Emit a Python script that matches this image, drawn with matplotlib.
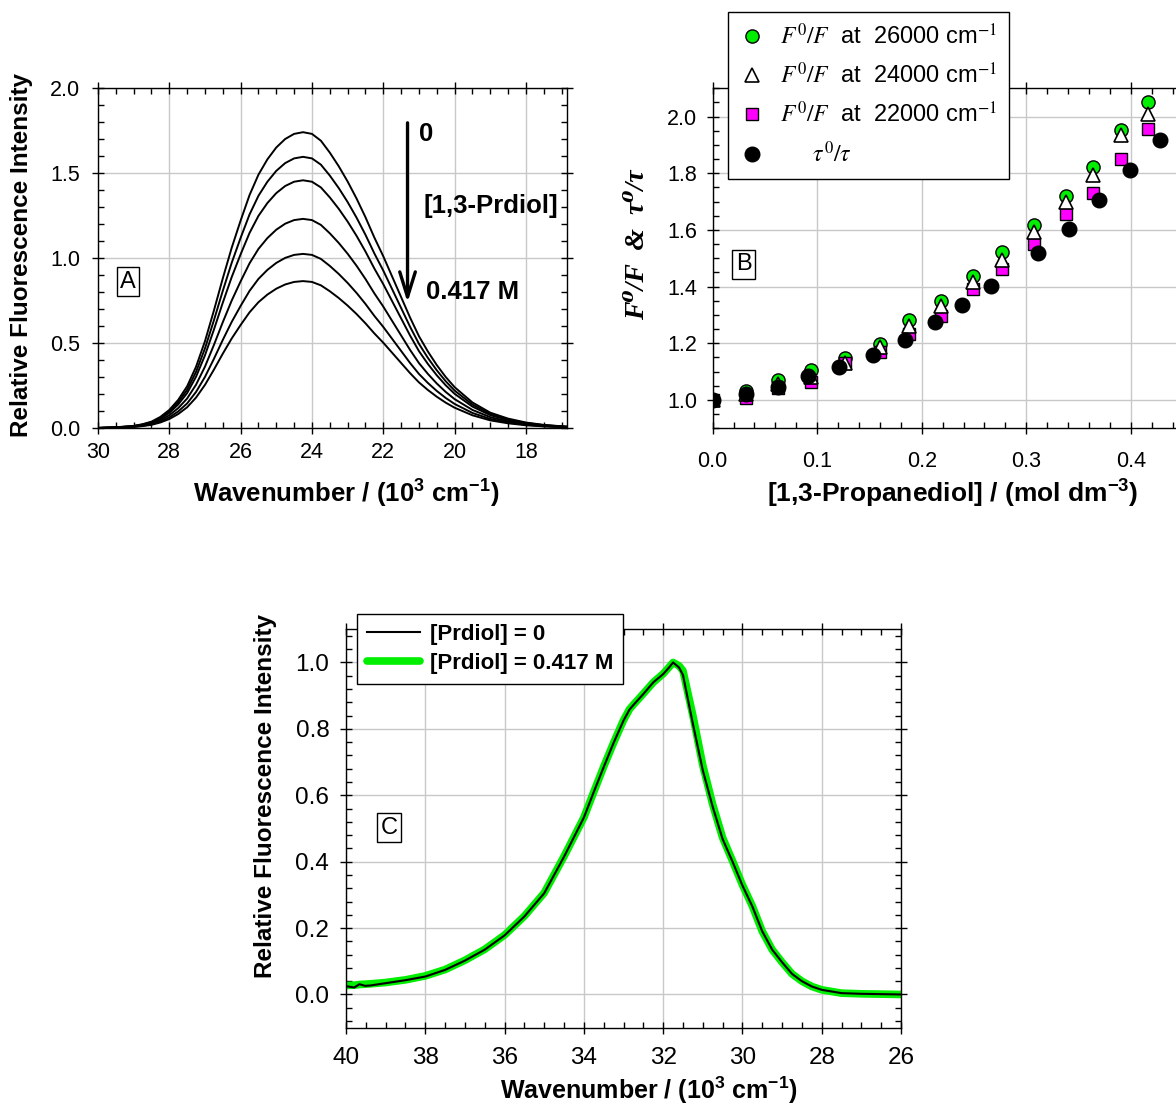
import matplotlib.pyplot as plt
from matplotlib.ticker import MultipleLocator
from matplotlib.lines import Line2D
from matplotlib.font_manager import FontProperties

plt.rcParams['font.family'] = ['Liberation Sans', 'DejaVu Sans']
plt.rcParams['mathtext.fontset'] = 'custom'
plt.rcParams['mathtext.rm'] = 'Liberation Sans:bold'
plt.rcParams['mathtext.it'] = 'Liberation Sans:italic:bold'
plt.rcParams['mathtext.bf'] = 'Liberation Sans:bold'

# ---- A: emission spectra with increasing [1,3-Prdiol]
wn_a = [30.0, 29.5, 29.0, 28.75, 28.5, 28.25, 28.0, 27.75, 27.5, 27.25, 27.0,
        26.75, 26.5, 26.25, 26.0, 25.75, 25.5, 25.25, 25.0, 24.75, 24.5, 24.25,
        24.0, 23.75, 23.5, 23.25, 23.0, 22.75, 22.5, 22.25, 22.0, 21.75, 21.5,
        21.25, 21.0, 20.75, 20.5, 20.25, 20.0, 19.5, 19.0, 18.5, 18.0, 17.5,
        17.0, 16.85]
spec_a0 = [0.000, 0.004, 0.012, 0.022, 0.037, 0.065, 0.106, 0.165, 0.245, 0.36,
           0.51, 0.69, 0.88, 1.06, 1.22, 1.37, 1.49, 1.58, 1.65, 1.70, 1.73,
           1.74, 1.73, 1.69, 1.62, 1.54, 1.45, 1.35, 1.24, 1.12, 1.01, 0.89,
           0.77, 0.65, 0.54, 0.45, 0.37, 0.30, 0.24, 0.15, 0.09, 0.055, 0.032,
           0.018, 0.010, 0.008]
peaks_a = [1.74, 1.595, 1.457, 1.23, 1.024, 0.864]

# ---- B: F0/F and tau0/tau against [1,3-propanediol]
conc_f = [0.0, 0.0319, 0.0628, 0.094, 0.1266, 0.160, 0.188, 0.218, 0.249,
          0.277, 0.3075, 0.3378, 0.3636, 0.391, 0.4169]
f0f_26000 = [1.0, 1.030, 1.071, 1.104, 1.149, 1.198, 1.281, 1.349, 1.439,
             1.522, 1.619, 1.719, 1.823, 1.953, 2.050]
f0f_24000 = [1.0, 1.020, 1.057, 1.080, 1.130, 1.186, 1.260, 1.330, 1.416,
             1.493, 1.593, 1.700, 1.794, 1.935, 2.008]
f0f_22000 = [1.0, 1.007, 1.042, 1.065, 1.130, 1.168, 1.233, 1.297, 1.393,
             1.462, 1.550, 1.656, 1.731, 1.850, 1.956]
conc_tau = [0.0, 0.0319, 0.0628, 0.0915, 0.1212, 0.1531, 0.1837, 0.213,
            0.2389, 0.266, 0.3116, 0.341, 0.3694, 0.3993, 0.428]
tau0tau = [1.0, 1.021, 1.047, 1.084, 1.118, 1.160, 1.212, 1.276, 1.334,
           1.404, 1.519, 1.603, 1.705, 1.811, 1.918]

# ---- C: normalised excitation spectra
wn_c = [40.0, 39.79, 39.66, 39.52, 39.39, 39.0, 38.5, 38.0, 37.5, 37.0, 36.5,
        36.0, 35.5, 35.0, 34.5, 34.0, 33.75, 33.5, 33.25, 33.0, 32.85, 32.75,
        32.5, 32.25, 32.0, 31.85, 31.75, 31.6, 31.5, 31.25, 31.0, 30.75, 30.5,
        30.25, 30.0, 29.75, 29.5, 29.25, 29.0, 28.75, 28.5, 28.25, 28.0, 27.5,
        27.0, 26.5, 26.0]
exc_0 = [0.025, 0.021, 0.031, 0.026, 0.027, 0.034, 0.043, 0.054, 0.074, 0.102,
         0.135, 0.178, 0.235, 0.305, 0.415, 0.533, 0.61, 0.685, 0.758, 0.825,
         0.858, 0.872, 0.905, 0.94, 0.965, 0.985, 1.0, 0.985, 0.962, 0.815,
         0.675, 0.565, 0.468, 0.40, 0.328, 0.265, 0.19, 0.135, 0.097, 0.062,
         0.04, 0.024, 0.014, 0.004, 0.002, 0.001, 0.0]
exc_417 = [0.027, 0.028, 0.030, 0.031, 0.032, 0.036, 0.044, 0.056, 0.075, 0.103,
           0.136, 0.179, 0.236, 0.306, 0.416, 0.533, 0.61, 0.686, 0.758, 0.826,
           0.859, 0.873, 0.906, 0.94, 0.966, 0.986, 1.0, 0.99, 0.975, 0.84,
           0.69, 0.572, 0.472, 0.402, 0.33, 0.266, 0.19, 0.135, 0.097, 0.062,
           0.04, 0.024, 0.014, 0.004, 0.002, 0.001, 0.0]

GREEN = '#00ee00'
GRID = '#c8c8c8'


def style_axes(ax, xmaj, xmin, ymaj, ymin, xpad, ypad, size):
    ax.xaxis.set_major_locator(MultipleLocator(xmaj))
    ax.xaxis.set_minor_locator(MultipleLocator(xmin))
    ax.yaxis.set_major_locator(MultipleLocator(ymaj))
    ax.yaxis.set_minor_locator(MultipleLocator(ymin))
    ax.tick_params(which='major', direction='inout', length=8, width=1,
                   top=True, right=True, labelsize=size)
    ax.tick_params(which='minor', direction='in', length=4, width=1,
                   top=True, right=True)
    ax.tick_params(axis='x', which='major', pad=xpad)
    ax.tick_params(axis='y', which='major', pad=ypad)
    ax.grid(True, which='major', color=GRID, lw=1)
    ax.set_axisbelow(True)
    for s in ax.spines.values():
        s.set_linewidth(1)


def label_box(ax, x, y, s):
    ax.text(x, y, s, fontsize=17, ha='center', va='center',
            bbox=dict(boxstyle='square,pad=0.15', fc='white', ec='black', lw=1))


fig = plt.figure(figsize=(11.76, 11.11), dpi=100)

# ---------------- panel A
axA = fig.add_axes([0.0833, 0.6148, 0.3988, 0.3060])
top = max(spec_a0)
for p in peaks_a:
    axA.plot(wn_a, [v * p / top for v in spec_a0], color='black', lw=1.4)
axA.set_xlim(30, 16.85)
axA.set_ylim(0, 2.0)
style_axes(axA, 2, 0.5, 0.5, 0.1, 6, 9, 15.5)
axA.yaxis.set_major_formatter('{x:.1f}')
axA.set_xlabel(r'Wavenumber / (10$^3$ cm$^{-1}$)', fontsize=18.5, fontweight='bold')
axA.xaxis.set_label_coords(0.53, -0.147)
axA.set_ylabel('Relative Fluorescence Intensity', fontsize=17.5, fontweight='bold')
axA.yaxis.set_label_coords(-0.139, 0.509)
label_box(axA, 29.16, 0.86, 'A')
axA.annotate('', xy=(21.32, 0.738), xytext=(21.32, 1.795),
             arrowprops=dict(arrowstyle='->,head_length=0.9,head_width=0.28',
                             lw=2.4, color='black', mutation_scale=20,
                             shrinkA=0, shrinkB=0))
axA.text(21.0, 1.727, '0', fontsize=18.5, fontweight='bold', va='center')
axA.text(20.86, 1.304, '[1,3-Prdiol]', fontsize=18.5, fontweight='bold', va='center')
axA.text(20.8, 0.80, '0.417 M', fontsize=18.5, fontweight='bold', va='center')

# ---------------- panel B
axB = fig.add_axes([0.6060, 0.6145, 0.4000, 0.3060])
axB.plot(conc_f, f0f_26000, 'o', ms=9.5, mfc=GREEN, mec='black', mew=1, zorder=3)
axB.plot(conc_f, f0f_22000, 's', ms=8.5, mfc='#ff00ff', mec='black', mew=1, zorder=4)
axB.plot(conc_f, f0f_24000, '^', ms=10, mfc='white', mec='black', mew=1.2, zorder=5)
axB.plot(conc_tau, tau0tau, 'o', ms=10.5, mfc='black', mec='black', zorder=6)
axB.set_xlim(0, 0.45)
axB.set_ylim(0.9, 2.1)
style_axes(axB, 0.1, 0.02, 0.2, 0.05, 12, 7, 15.5)
axB.xaxis.set_major_formatter('{x:.1f}')
axB.yaxis.set_major_formatter('{x:.1f}')
axB.set_xlabel(r'[1,3-Propanediol] / (mol dm$^{-3}$)', fontsize=19, fontweight='bold')
axB.xaxis.set_label_coords(0.511, -0.146)
axB.set_ylabel('F\u2070/F  &  \u03c4\u2070/\u03c4', fontsize=20, fontweight='bold',
               fontstyle='italic', family=['Liberation Serif', 'DejaVu Serif'])
axB.yaxis.set_label_coords(-0.133, 0.539)
label_box(axB, 0.0295, 1.479, 'B')

leg_prop = FontProperties(family='Liberation Sans', size=17, math_fontfamily='stix')
handles_b = [
    Line2D([], [], ls='none', marker='o', ms=9.5, mfc=GREEN, mec='black', mew=1),
    Line2D([], [], ls='none', marker='^', ms=10, mfc='white', mec='black', mew=1.2),
    Line2D([], [], ls='none', marker='s', ms=8.5, mfc='#ff00ff', mec='black', mew=1),
    Line2D([], [], ls='none', marker='o', ms=10.5, mfc='black', mec='black'),
]
labels_b = [r'$F^0/F$  at  26000 cm$^{-1}$',
            r'$F^0/F$  at  24000 cm$^{-1}$',
            r'$F^0/F$  at  22000 cm$^{-1}$',
            r'     $\tau^0/\tau$']
legB = fig.legend(handles_b, labels_b, loc='upper left',
                  bbox_to_anchor=(0.6193, 0.9895), bbox_transform=fig.transFigure,
                  prop=leg_prop, frameon=True, fancybox=False, framealpha=1,
                  edgecolor='black', borderpad=0.5, labelspacing=0.58,
                  handlelength=1.0, handletextpad=0.7, borderaxespad=0)
legB.get_frame().set_linewidth(1)

# ---------------- panel C
axC = fig.add_axes([0.2942, 0.0750, 0.4720, 0.3586])
axC.plot(wn_c, exc_417, color=GREEN, lw=5.5, solid_capstyle='round',
         solid_joinstyle='round', label='[Prdiol] = 0.417 M')
axC.plot(wn_c, exc_0, color='black', lw=1.5, label='[Prdiol] = 0')
axC.set_xlim(40, 26)
axC.set_ylim(-0.1, 1.1)
style_axes(axC, 2, 0.5, 0.2, 0.04, 10, 8, 17.5)
axC.yaxis.set_major_formatter('{x:.1f}')
axC.set_xlabel(r'Wavenumber / (10$^3$ cm$^{-1}$)', fontsize=18, fontweight='bold')
axC.xaxis.set_label_coords(0.545, -0.119)
axC.set_ylabel('Relative Fluorescence Intensity', fontsize=17.5, fontweight='bold')
axC.yaxis.set_label_coords(-0.124, 0.582)
label_box(axC, 38.92, 0.502, 'C')
hC, lC = axC.get_legend_handles_labels()
legC = fig.legend(hC[::-1], lC[::-1], loc='upper left',
                  bbox_to_anchor=(0.3033, 0.4473), bbox_transform=fig.transFigure,
                  prop=FontProperties(family='Liberation Sans', size=16, weight='bold'),
                  frameon=True, fancybox=False, framealpha=1, edgecolor='black',
                  borderpad=0.45, labelspacing=0.35, handlelength=2.4,
                  handletextpad=0.45, borderaxespad=0)
legC.get_frame().set_linewidth(1)

fig.savefig('out.png', dpi=100)
